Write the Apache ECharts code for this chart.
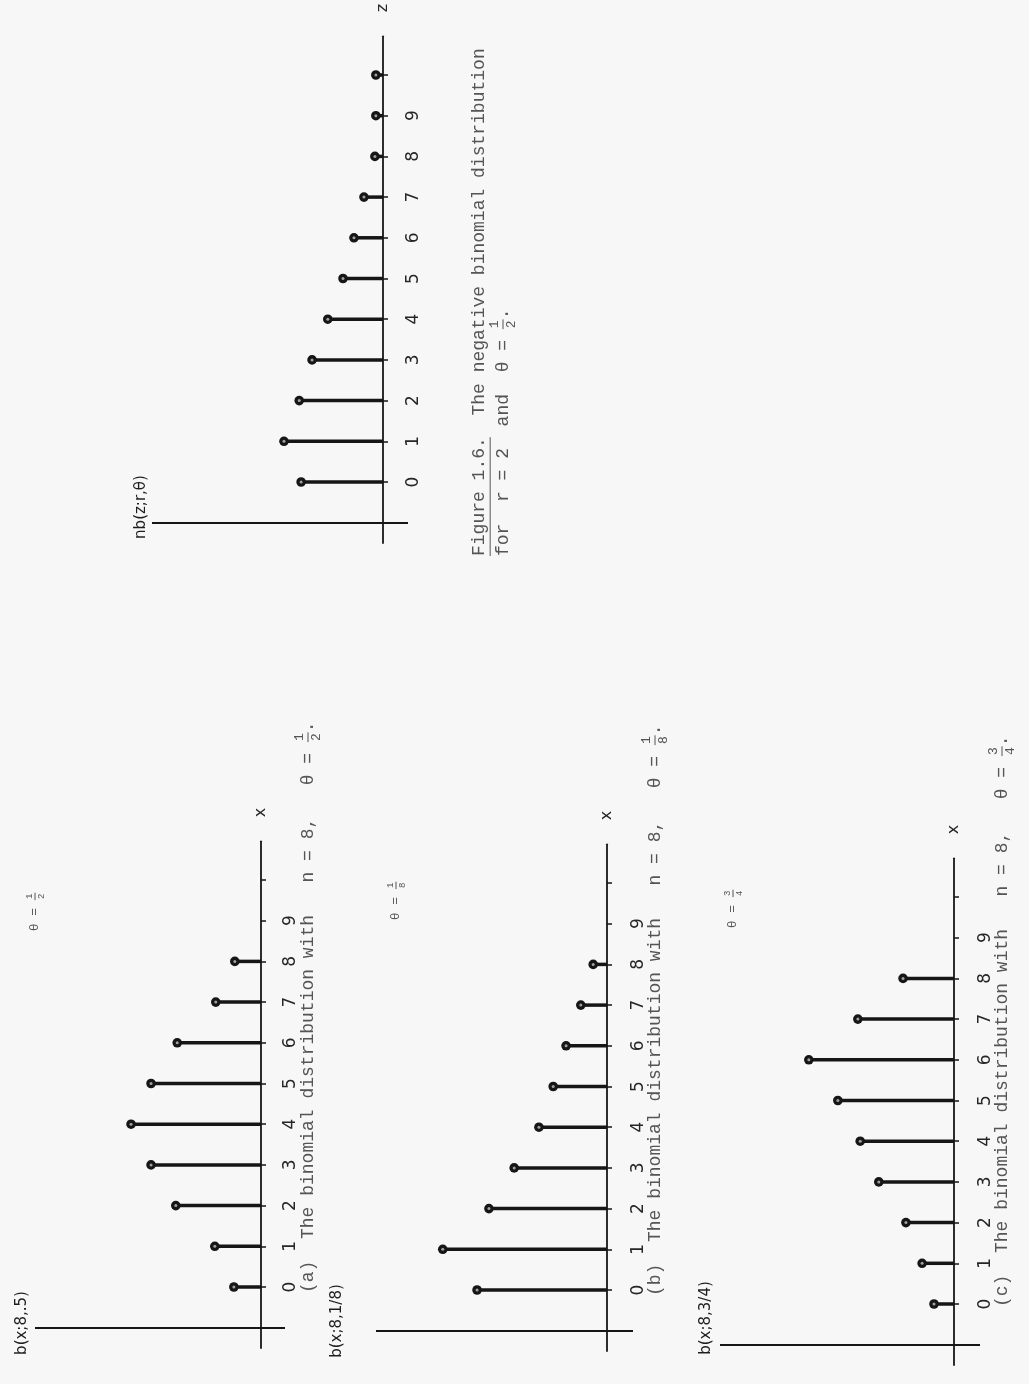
<!DOCTYPE html>
<html><head><meta charset="utf-8">
<script src="https://cdn.jsdelivr.net/npm/echarts@6/dist/echarts.min.js"></script>
<style>html,body{margin:0;padding:0;background:#f7f7f7}#c{width:1029px;height:1384px}</style>
</head><body><div id="c"></div>
<script>
// ---- data ----
const positionsBin = [0, 1, 2, 3, 4, 5, 6, 7, 8];
const positionsNB = [0, 1, 2, 3, 4, 5, 6, 7, 8, 9, 10];
const valuesA = [0.057, 0.097, 0.179, 0.231, 0.273, 0.231, 0.176, 0.095, 0.055];   // b(x;8,.5)
const valuesB = [0.273, 0.345, 0.248, 0.195, 0.143, 0.113, 0.086, 0.055, 0.029];   // b(x;8,1/8)
const valuesC = [0.042, 0.067, 0.101, 0.158, 0.197, 0.244, 0.305, 0.202, 0.107];   // b(x;8,3/4)
const valuesNB = [0.172, 0.208, 0.176, 0.149, 0.116, 0.084, 0.061, 0.040, 0.017, 0.015, 0.015]; // nb(z;2,1/2)
const tickValues = [0, 1, 2, 3, 4, 5, 6, 7, 8, 9, 10];
const tickLabels = ['0', '1', '2', '3', '4', '5', '6', '7', '8', '9'];

// ---- layout ----
const K = 476;    // px per probability unit
const S = 40.7;   // px per category step
const Y_MIN = -1.5, Y_MAX = 10.95, BASE_Y = -1;
const panels = [
  { left: 35,  right: 285, axisX: 261, y0: 1287, pos: positionsBin, vals: valuesA, name: 'x' },
  { left: 376, right: 633, axisX: 607, y0: 1290, pos: positionsBin, vals: valuesB, name: 'x' },
  { left: 720, right: 980, axisX: 954, y0: 1304, pos: positionsBin, vals: valuesC, name: 'x' },
  { left: 152, right: 408, axisX: 383, y0: 482,  pos: positionsNB,  vals: valuesNB, name: 'z' }
];

const INK = '#161616';
function stemItem(params, api) {
  const v = api.value(0), k = api.value(1);
  const p0 = api.coord([0, k]);
  const p1 = api.coord([v, k]);
  return { type: 'group', children: [
    { type: 'line', shape: { x1: p0[0], y1: p0[1], x2: p1[0], y2: p1[1] }, style: { stroke: INK, lineWidth: 3.5 } },
    { type: 'circle', shape: { cx: p1[0], cy: p1[1], r: 4.8 }, style: { fill: INK } },
    { type: 'circle', shape: { cx: p1[0], cy: p1[1], r: 1.5 }, style: { fill: '#a0a0a0' } }
  ]};
}

const grids = [], xAxes = [], yAxes = [], series = [];
panels.forEach((p, i) => {
  grids.push({ left: p.left, width: p.right - p.left, top: p.y0 - Y_MAX * S, height: (Y_MAX - Y_MIN) * S,
               containLabel: false, outerBoundsMode: 'none' });
  xAxes.push({ gridIndex: i, type: 'value', inverse: true, show: false,
               min: -(p.right - p.axisX) / K, max: (p.axisX - p.left) / K });
  yAxes.push({ gridIndex: i, type: 'value', min: Y_MIN, max: Y_MAX, position: 'right',
    axisLine: { show: true, onZero: true, lineStyle: { color: INK, width: 1.8 } },
    axisTick: { show: true, customValues: tickValues, length: 5, lineStyle: { color: INK, width: 1.5 } },
    axisLabel: { customValues: tickValues.slice(0, tickLabels.length), formatter: v => tickLabels[Math.round(v)],
                 rotate: 90, margin: -3, fontSize: 17, color: '#262626', fontFamily: 'DejaVu Sans' },
    splitLine: { show: false },
    name: p.name, nameLocation: 'end', nameGap: 24, nameRotate: 90,
    nameTextStyle: { fontSize: 16, color: '#262626', fontFamily: 'DejaVu Sans' }
  });
  series.push({ type: 'custom', xAxisIndex: i, yAxisIndex: i, renderItem: stemItem, silent: true,
    encode: { x: 0, y: 1 },
    data: p.pos.map((k, j) => [p.vals[j], k]),
    markLine: { silent: true, symbol: ['none', 'none'], label: { show: false },
                lineStyle: { color: INK, width: 1.9, type: 'solid' }, data: [{ yAxis: BASE_Y }] }
  });
});

// ---- rotated texts ----
const mctx = document.createElement('canvas').getContext('2d');
function tw(t, font) { mctx.font = font; return mctx.measureText(t).width; }
function txt(t, x, y, font, color, al) {
  return { type: 'text', x: x, y: y, style: { text: t, font: font, fill: color,
    align: al || 'left', verticalAlign: 'middle', textAlign: al || 'left', textVerticalAlign: 'middle' } };
}
// x,y = screen point; text reads bottom-to-top; align 'start' or 'center'
function rotText(x, y, segs, fs, family, color, align) {
  const font = fs + 'px ' + family;
  const fFont = Math.round(fs * 0.72) + 'px ' + family;
  const ch = []; let cx = 0;
  segs.forEach(s => {
    if (typeof s === 'string') {
      ch.push(txt(s, cx, 0, font, color)); cx += tw(s, font);
    } else if (s.frac) {
      const w = Math.max(tw(s.frac[0], fFont), tw(s.frac[1], fFont)) + 2;
      const mid = cx + w / 2;
      ch.push(txt(s.frac[0], mid, -fs * 0.45, fFont, color, 'center'));
      ch.push({ type: 'line', shape: { x1: cx, y1: 0, x2: cx + w, y2: 0 }, style: { stroke: color, lineWidth: 1 } });
      ch.push(txt(s.frac[1], mid, fs * 0.47, fFont, color, 'center'));
      cx += w;
    } else if (s.u) {
      const w = tw(s.u, font);
      ch.push(txt(s.u, cx, 0, font, color));
      ch.push({ type: 'line', shape: { x1: cx, y1: fs * 0.62, x2: cx + w, y2: fs * 0.62 }, style: { stroke: color, lineWidth: 1 } });
      cx += w;
    }
  });
  if (align === 'center') ch.forEach(c => { if (c.type === 'text') c.x -= cx / 2; else { c.shape.x1 -= cx / 2; c.shape.x2 -= cx / 2; } });
  return { type: 'group', x: x, y: y, rotation: Math.PI / 2, children: ch };
}

const MONO = '"Liberation Mono", "DejaVu Sans Mono", monospace';
const SANS = '"DejaVu Sans", sans-serif';
const CAP = '#555555';
const graphics = [
  rotText(22, 1323, ['b(x;8,.5)'], 15, SANS, '#1e1e1e', 'center'),
  rotText(337, 1321, ['b(x;8,1/8)'], 15, SANS, '#1e1e1e', 'center'),
  rotText(706, 1318, ['b(x;8,3/4)'], 15, SANS, '#1e1e1e', 'center'),
  rotText(141, 507, ['nb(z;r,\u03B8)'], 15, SANS, '#1e1e1e', 'center'),

  rotText(35, 912, ['\u03B8 = ', { frac: ['1', '2'] }], 13, MONO, CAP, 'center'),
  rotText(396, 901, ['\u03B8 = ', { frac: ['1', '8'] }], 13, MONO, CAP, 'center'),
  rotText(733, 909, ['\u03B8 = ', { frac: ['3', '4'] }], 13, MONO, CAP, 'center'),

  rotText(308, 1293, ['(a)  The binomial distribution with   n = 8,   \u03B8 = ', { frac: ['1', '2'] }, '.'], 18, MONO, CAP),
  rotText(655, 1296, ['(b)  The binomial distribution with   n = 8,   \u03B8 = ', { frac: ['1', '8'] }, '.'], 18, MONO, CAP),
  rotText(1002, 1307, ['(c)  The binomial distribution with   n = 8,   \u03B8 = ', { frac: ['3', '4'] }, '.'], 18, MONO, CAP),

  rotText(479, 556, [{ u: 'Figure 1.6.' }, '  The negative binomial distribution'], 18, MONO, CAP),
  rotText(503, 556, ['for  r = 2  and  \u03B8 = ', { frac: ['1', '2'] }, '.'], 18, MONO, CAP)
];

const chart = echarts.init(document.getElementById('c'), null, { renderer: 'canvas' });
chart.setOption({
  backgroundColor: '#f7f7f7',
  animation: false,
  grid: grids, xAxis: xAxes, yAxis: yAxes, series: series,
  graphic: { elements: graphics }
});
</script></body></html>
